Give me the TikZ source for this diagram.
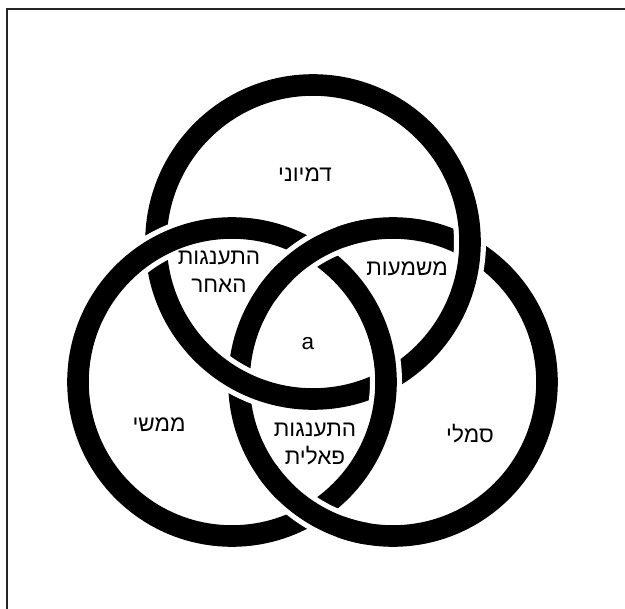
\documentclass[tikz,border=0pt]{standalone}
\usepackage{fontspec}
\setmainfont{Liberation Sans}
\newfontfamily\hebfont[Script=Hebrew]{Liberation Sans}
\TeXXeTstate=1
\usepackage{tikz}
\usetikzlibrary{positioning}

\begin{document}
\begin{tikzpicture}[x=0.025cm, y=0.025cm,
    ring/.style={draw=black, line width=0.54cm, preaction={draw=white, line width=0.8cm}},
    gap/.style={draw=white, line width=0.8cm},
    band/.style={draw=black, line width=0.54cm},
    frame/.style={draw=black!85, line width=0.05cm},
    lbl/.style={font=\hebfont\fontsize{16}{20}\selectfont, align=center, inner sep=0pt}]

    \useasboundingbox (0,0) rectangle (625,608);
    \clip (0,0) rectangle (625,608);
    \fill[white] (0,0) rectangle (625,608);

    % frame, cut off at right and bottom
    \coordinate (cornerTL) at (7,599);
    \draw[frame] (7,-20) -- (cornerTL) -- (650,599);

    % ring centres
    \coordinate (topc) at (313,366);
    \coordinate (leftc) at (232,226);
    \coordinate (rightc) at (393,226);

    % rings: right under top, top under left
    \draw[ring] (rightc) circle[radius=154];
    \draw[ring] (topc) circle[radius=157];
    \draw[ring] (leftc) circle[radius=154];
    % right ring back over left ring
    \draw[gap] (rightc) ++(110:154) arc[start angle=110, end angle=135, radius=154];
    \draw[gap] (rightc) ++(225:154) arc[start angle=225, end angle=250, radius=154];
    \draw[band] (rightc) ++(100:154) arc[start angle=100, end angle=145, radius=154];
    \draw[band] (rightc) ++(215:154) arc[start angle=215, end angle=260, radius=154];

    % labels
    \node[lbl] (imag) at (305,433) {\beginR דמיוני\endR};
    \node[lbl] (meaning) at (407,339) {\beginR משמעות\endR};
    \node[lbl] (jother) at (219,336) {\beginR התענגות\endR\\\beginR האחר\endR};
    \node[lbl] (obja) at (308,264) {a};
    \node[lbl] (real) at (159,183) {\beginR ממשי\endR};
    \node[lbl] (jphal) at (315,164) {\beginR התענגות\endR\\\beginR פאלית\endR};
    \node[lbl] (symb) at (470,174) {\beginR סמלי\endR};
\end{tikzpicture}
\end{document}
